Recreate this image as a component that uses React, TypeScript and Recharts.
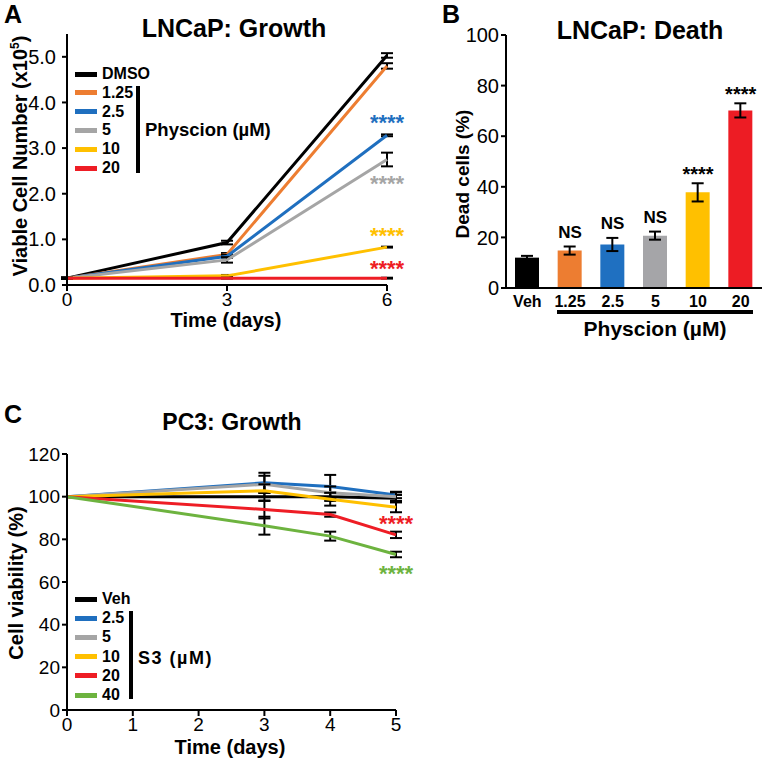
import React from 'react';
import { LineChart, Line, XAxis, YAxis, ErrorBar, ReferenceDot, BarChart, Bar, Cell } from 'recharts';

const FONT = '"Liberation Sans", Arial, Helvetica, sans-serif';

// ---------- Panel A: LNCaP growth ----------
const growthDays = [0, 3, 6];
const growthLabels = ['DMSO', '1.25', '2.5', '5', '10', '20'];
const growthKeys = ['dmso', 'p125', 'p25', 'p5', 'p10', 'p20'];
const growthColors = ['#000000', '#ED7D31', '#1F6FBF', '#A5A5A5', '#FFC000', '#EE1D25'];
const growthDMSO = [0.15, 0.93, 5.03];
const growthP125 = [0.15, 0.67, 4.8];
const growthP25 = [0.15, 0.63, 3.28];
const growthP5 = [0.15, 0.55, 2.75];
const growthP10 = [0.15, 0.2, 0.83];
const growthP20 = [0.15, 0.15, 0.15];
const growthErrDMSO = [0.01, 0.04, 0.05];
const growthErrP125 = [0.01, 0.03, 0.06];
const growthErrP25 = [0.01, 0.03, 0.02];
const growthErrP5 = [0.01, 0.06, 0.15];
const growthErrP10 = [0.01, 0.02, 0.01];
const growthErrP20 = [0.01, 0.01, 0.01];
const growthStarY = [null, null, 3.56, 2.22, 1.1, 0.36];
const growthYTicks = [0, 1, 2, 3, 4, 5];
const growthXTicks = [0, 3, 6];

const growthValues = [growthDMSO, growthP125, growthP25, growthP5, growthP10, growthP20];
const growthErrors = [growthErrDMSO, growthErrP125, growthErrP25, growthErrP5, growthErrP10, growthErrP20];
const growthRows = growthDays.map((d, i) => {
  const row: Record<string, number> = { day: d };
  growthKeys.forEach((k, s) => {
    row[k] = growthValues[s][i];
    row[k + '_err'] = growthErrors[s][i];
  });
  return row;
});

// ---------- Panel B: LNCaP death ----------
const deathCategories = ['Veh', '1.25', '2.5', '5', '10', '20'];
const deathValues = [12, 14.8, 17.2, 20.7, 37.8, 70.2];
const deathErrors = [0.7, 1.6, 2.6, 1.6, 3.6, 2.8];
const deathColors = ['#000000', '#ED7D31', '#1F70C1', '#A5A5A8', '#FFC000', '#ED1C24'];
const deathSig = ['', 'NS', 'NS', 'NS', '****', '****'];
const deathYTicks = [0, 20, 40, 60, 80, 100];
const deathRows = deathCategories.map((c, i) => ({ cat: c, value: deathValues[i], err: deathErrors[i] }));

// ---------- Panel C: PC3 growth ----------
const pcDays = [0, 3, 4, 5];
const pcLabels = ['Veh', '2.5', '5', '10', '20', '40'];
const pcKeys = ['veh', 's25', 's5', 's10', 's20', 's40'];
const pcColors = ['#000000', '#1F6FBF', '#A5A5A5', '#FFC000', '#EE1D25', '#6DB33F'];
const pcVeh = [100, 100, 100, 99.3];
const pcS25 = [100, 106.5, 104.8, 100.8];
const pcS5 = [100, 105.8, 101.8, 100];
const pcS10 = [100, 102.8, 98.8, 95];
const pcS20 = [100, 94, 91.6, 82.1];
const pcS40 = [100, 86.4, 81.5, 72.9];
const pcErrVeh = [0, 2, 2, 1.5];
const pcErrS25 = [0, 4.7, 5.4, 1.5];
const pcErrS5 = [0, 4, 3, 2];
const pcErrS10 = [0, 3, 3, 2.3];
const pcErrS20 = [0, 4.2, 1, 1.5];
const pcErrS40 = [0, 4.2, 2.1, 1.3];
const pcStarY = [null, null, null, null, 87.4, 64];
const pcYTicks = [0, 20, 40, 60, 80, 100, 120];
const pcXTicks = [0, 1, 2, 3, 4, 5];

const pcValues = [pcVeh, pcS25, pcS5, pcS10, pcS20, pcS40];
const pcErrors = [pcErrVeh, pcErrS25, pcErrS5, pcErrS10, pcErrS20, pcErrS40];
const pcRows = pcDays.map((d, i) => {
  const row: Record<string, number> = { day: d };
  pcKeys.forEach((k, s) => {
    row[k] = pcValues[s][i];
    row[k + '_err'] = pcErrors[s][i];
  });
  return row;
});

const axisLine = { stroke: '#000', strokeWidth: 2 };
const tickLine = { stroke: '#000', strokeWidth: 2 };

const abs = (left: number, top: number, extra: React.CSSProperties = {}): React.CSSProperties => ({
  position: 'absolute',
  left,
  top,
  ...extra,
});

function CenterText({ x, y, size, children, weight = 'bold', style = {} }: any) {
  return (
    <div
      style={{
        position: 'absolute',
        left: x,
        top: y,
        transform: 'translate(-50%, -50%)',
        fontSize: size,
        fontWeight: weight,
        whiteSpace: 'nowrap',
        lineHeight: 1,
        ...style,
      }}
    >
      {children}
    </div>
  );
}

function VText({ x, y, size, children }: any) {
  return (
    <div
      style={{
        position: 'absolute',
        left: x,
        top: y,
        transform: 'translate(-50%, -50%) rotate(-90deg)',
        fontSize: size,
        fontWeight: 'bold',
        whiteSpace: 'nowrap',
        lineHeight: 1,
      }}
    >
      {children}
    </div>
  );
}

function LineLegend({ labels, colors, left, top, step, barX, barTop, barHeight, groupLabel, groupX, groupY, groupSize, groupSpacing }: any) {
  return (
    <>
      {labels.map((l: string, i: number) => (
        <React.Fragment key={l}>
          <div style={abs(left, top + i * step - 2.5, { width: 22, height: 5, background: colors[i] })} />
          <div style={abs(left + 27, top + i * step - 9, { fontSize: 16, fontWeight: 'bold', lineHeight: '18px', height: 18 })}>{l}</div>
        </React.Fragment>
      ))}
      <div style={abs(barX, barTop, { width: 4, height: barHeight, background: '#000' })} />
      <div style={abs(groupX, groupY - 11, { fontSize: groupSize, fontWeight: 'bold', lineHeight: '22px', whiteSpace: 'nowrap', letterSpacing: groupSpacing })}>{groupLabel}</div>
    </>
  );
}

export default function App() {
  return (
    <div style={{ position: 'absolute', left: 0, top: 0, width: 762, height: 760, background: '#fff', fontFamily: FONT, color: '#000', overflow: 'hidden' }}>
      {/* Panel A */}
      <div style={abs(0, 0)}>
        <LineChart width={420} height={340} data={growthRows} margin={{ top: 34, right: 33, bottom: 25, left: 17 }}>
          <XAxis
            dataKey="day"
            type="number"
            domain={[0, 6]}
            ticks={growthXTicks}
            axisLine={axisLine}
            tickLine={tickLine}
            tickSize={6}
            tickMargin={2}
            height={30}
            tick={{ fill: '#000', fontSize: 19, fontFamily: FONT }}
          />
          <YAxis
            type="number"
            domain={[0, 5.5]}
            ticks={growthYTicks}
            tickFormatter={(v: number) => v.toFixed(1)}
            axisLine={axisLine}
            tickLine={tickLine}
            tickSize={5}
            tickMargin={6}
            width={50}
            tick={{ fill: '#000', fontSize: 20, fontFamily: FONT }}
          />
          {growthKeys.map((k, s) => (
            <Line key={k} dataKey={k} type="linear" stroke={growthColors[s]} strokeWidth={3} dot={false} isAnimationActive={false}>
              <ErrorBar dataKey={k + '_err'} width={6} stroke="#000" strokeWidth={2} direction="y" />
            </Line>
          ))}
          {growthStarY.map((y, s) =>
            y == null ? null : (
              <ReferenceDot
                key={'star' + s}
                x={6}
                y={y}
                r={1}
                fill="none"
                stroke="none"
                ifOverflow="visible"
                label={{ value: '****', position: 'center', fill: growthColors[s], fontSize: 22, fontWeight: 'bold', fontFamily: FONT }}
              />
            )
          )}
        </LineChart>
      </div>
      <CenterText x={13} y={14} size={25}>A</CenterText>
      <CenterText x={234} y={28} size={25}>LNCaP: Growth</CenterText>
      <CenterText x={226} y={320} size={20}>Time (days)</CenterText>
      <VText x={20} y={156} size={20}>
        Viable Cell Number (x10<sup style={{ fontSize: '0.6em', verticalAlign: 'super', lineHeight: 0 }}>5</sup>)
      </VText>
      <LineLegend
        labels={growthLabels}
        colors={growthColors}
        left={75}
        top={74}
        step={18.8}
        barX={136}
        barTop={86}
        barHeight={87}
        groupLabel="Physcion (µM)"
        groupX={145}
        groupY={130}
        groupSize={18.5}
        groupSpacing={0}
      />

      {/* Panel B */}
      <div style={abs(400, 0)}>
        <BarChart width={362} height={340} data={deathRows} margin={{ top: 35, right: 0, bottom: 22, left: 56 }} barSize={24}>
          <XAxis
            dataKey="cat"
            axisLine={axisLine}
            tickLine={false}
            tickSize={0}
            tickMargin={8}
            height={30}
            interval={0}
            tick={{ fill: '#000', fontSize: 16, fontWeight: 'bold', fontFamily: FONT }}
          />
          <YAxis
            type="number"
            domain={[0, 100]}
            ticks={deathYTicks}
            axisLine={axisLine}
            tickLine={tickLine}
            tickSize={5}
            tickMargin={2}
            width={50}
            tick={{ fill: '#000', fontSize: 20, fontFamily: FONT }}
          />
          <Bar dataKey="value" isAnimationActive={false}>
            {deathRows.map((r, i) => (
              <Cell key={r.cat} fill={deathColors[i]} />
            ))}
            <ErrorBar dataKey="err" width={6} stroke="#000" strokeWidth={2} direction="y" />
          </Bar>
          {deathSig.map((s, i) =>
            s ? (
              <ReferenceDot
                key={'sig' + i}
                x={deathCategories[i]}
                y={deathValues[i] + deathErrors[i]}
                r={1}
                fill="none"
                stroke="none"
                ifOverflow="visible"
                label={{ value: s, position: 'top', offset: s === 'NS' ? 8 : 1, fill: '#000', fontSize: s === 'NS' ? 17 : 20, fontWeight: 'bold', fontFamily: FONT }}
              />
            ) : null
          )}
        </BarChart>
      </div>
      <CenterText x={451} y={14} size={25}>B</CenterText>
      <CenterText x={640} y={30} size={25}>LNCaP: Death</CenterText>
      <VText x={462} y={174} size={19}>Dead cells (%)</VText>
      <div style={abs(557, 310, { width: 196, height: 4, background: '#000' })} />
      <CenterText x={655} y={328} size={21}>Physcion (µM)</CenterText>

      {/* Panel C */}
      <div style={abs(0, 400)}>
        <LineChart width={420} height={360} data={pcRows} margin={{ top: 54, right: 24, bottom: 20, left: 17 }}>
          <XAxis
            dataKey="day"
            type="number"
            domain={[0, 5]}
            ticks={pcXTicks}
            axisLine={axisLine}
            tickLine={tickLine}
            tickSize={6}
            tickMargin={2}
            height={30}
            tick={{ fill: '#000', fontSize: 19, fontFamily: FONT }}
          />
          <YAxis
            type="number"
            domain={[0, 120]}
            ticks={pcYTicks}
            axisLine={axisLine}
            tickLine={tickLine}
            tickSize={5}
            tickMargin={2}
            width={50}
            tick={{ fill: '#000', fontSize: 19, fontFamily: FONT }}
          />
          {pcKeys.map((k, s) => (
            <Line key={k} dataKey={k} type="linear" stroke={pcColors[s]} strokeWidth={3} dot={false} isAnimationActive={false}>
              <ErrorBar dataKey={k + '_err'} width={6} stroke="#000" strokeWidth={2} direction="y" />
            </Line>
          ))}
          {pcStarY.map((y, s) =>
            y == null ? null : (
              <ReferenceDot
                key={'pstar' + s}
                x={5}
                y={y}
                r={1}
                fill="none"
                stroke="none"
                ifOverflow="visible"
                label={{ value: '****', position: 'center', fill: pcColors[s], fontSize: 22, fontWeight: 'bold', fontFamily: FONT }}
              />
            )
          )}
        </LineChart>
      </div>
      <CenterText x={13} y={414} size={25}>C</CenterText>
      <CenterText x={232} y={422} size={23}>PC3: Growth</CenterText>
      <CenterText x={230} y={747} size={20}>Time (days)</CenterText>
      <VText x={16} y={583} size={20}>Cell viability (%)</VText>
      <LineLegend
        labels={pcLabels}
        colors={pcColors}
        left={75}
        top={599}
        step={19.2}
        barX={129}
        barTop={611}
        barHeight={88}
        groupLabel="S3 (µM)"
        groupX={138}
        groupY={658}
        groupSize={18}
        groupSpacing={1.5}
      />
    </div>
  );
}
